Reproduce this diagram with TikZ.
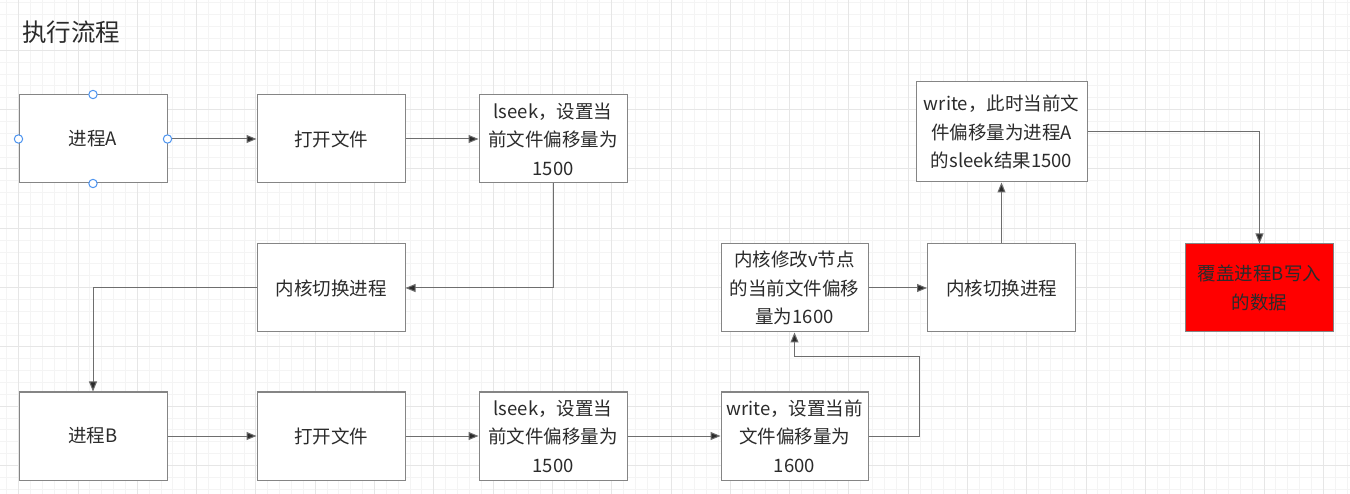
\documentclass[tikz,border=0pt]{standalone}
\usepackage{fontspec}
\setmainfont{Noto Sans CJK SC}
\usetikzlibrary{arrows.meta}
\definecolor{gridminor}{HTML}{F4F4F4}
\definecolor{gridmajor}{HTML}{E6E6E6}
\definecolor{boxgray}{HTML}{858585}
\definecolor{linegray}{HTML}{6E6E6E}
\definecolor{txt}{HTML}{2B2B2B}
\definecolor{handleblue}{HTML}{4D94F0}
\definecolor{redfill}{HTML}{FF0000}
\begin{document}
\begin{tikzpicture}[x=1pt,y=-1pt,
  box/.style={draw=boxgray, line width=1pt, minimum width=148pt, minimum height=88pt,
    align=center, font=\fontsize{18.5}{28.5}\selectfont, text=txt, inner sep=0pt},
  conn/.style={draw=linegray, line width=1pt, -{Triangle[length=10pt,width=8pt,fill=txt]}},
  handle/.style={draw=handleblue, fill=white, line width=1pt},
  gmin/.style={draw=gridminor, line width=1pt},
  gmaj/.style={draw=gridmajor, line width=1pt}]
\useasboundingbox (0,0) rectangle (1350,494);
\fill[white] (0,0) rectangle (1350,494);
% grid
\foreach \k in {-2,...,112} \draw[gmin] ({18.7+11.86*\k},0) -- ({18.7+11.86*\k},494);
\foreach \k in {-5,...,38} \draw[gmin] (0,{50.4+11.86*\k}) -- (1350,{50.4+11.86*\k});
\foreach \k in {0,...,22} \draw[gmaj] ({18.7+59.3*\k},0) -- ({18.7+59.3*\k},494);
\foreach \k in {-1,...,8} \draw[gmaj] (0,{50.4+59.3*\k}) -- (1350,{50.4+59.3*\k});
% title
\node[anchor=west, text=txt, font=\fontsize{24.5}{28}\selectfont, inner sep=0pt] (title) at (22,32) {执行流程};
% row 1
\node[box, fill=white] (A) at (93,139) {进程A};
\node[box, fill=white] (F1) at (331,139) {打开文件};
\node[box, fill=white] (L1) at (553,139) {lseek，设置当\\前文件偏移量为\\1500};
\node[box, fill=white, minimum width=171pt, minimum height=100pt] (W2) at (1001.5,132) {write，此时当前文\\件偏移量为进程A\\的sleek结果1500};
% row 2
\node[box, fill=white] (K1) at (331,288) {内核切换进程};
\node[box, fill=white, minimum width=147pt] (M) at (794.5,288) {内核修改v节点\\的当前文件偏移\\量为1600};
\node[box, fill=white] (K2) at (1001.5,288) {内核切换进程};
\node[box, fill=redfill] (R) at (1259.5,288) {覆盖进程B写入\\的数据};
% row 3
\node[box, fill=white] (B) at (93,436) {进程B};
\node[box, fill=white] (F2) at (331,436) {打开文件};
\node[box, fill=white] (L2) at (553,436) {lseek，设置当\\前文件偏移量为\\1500};
\node[box, fill=white, minimum width=147pt] (W1) at (794.5,436) {write，设置当前\\文件偏移量为\\1600};
% connectors
\coordinate (c1) at (919,357);
\draw[conn] (A) -- (F1);
\draw[conn] (F1) -- (L1);
\draw[conn] (L1.south) |- (K1.east);
\draw[conn] (K1.west) -| (B.north);
\draw[conn] (B) -- (F2);
\draw[conn] (F2) -- (L2);
\draw[conn] (L2) -- (W1);
\draw[conn] (W1.east) -| (c1) -| (M.south);
\draw[conn] (M) -- (K2);
\draw[conn] (K2) -- (W2);
\draw[conn] (W2.east) -| (R.north);
% selection handles
\draw[handle] (A.north) circle (4.2);
\draw[handle] (A.south) circle (4.2);
\draw[handle] (A.west) circle (4.2);
\draw[handle] (A.east) circle (4.2);
\end{tikzpicture}
\end{document}
